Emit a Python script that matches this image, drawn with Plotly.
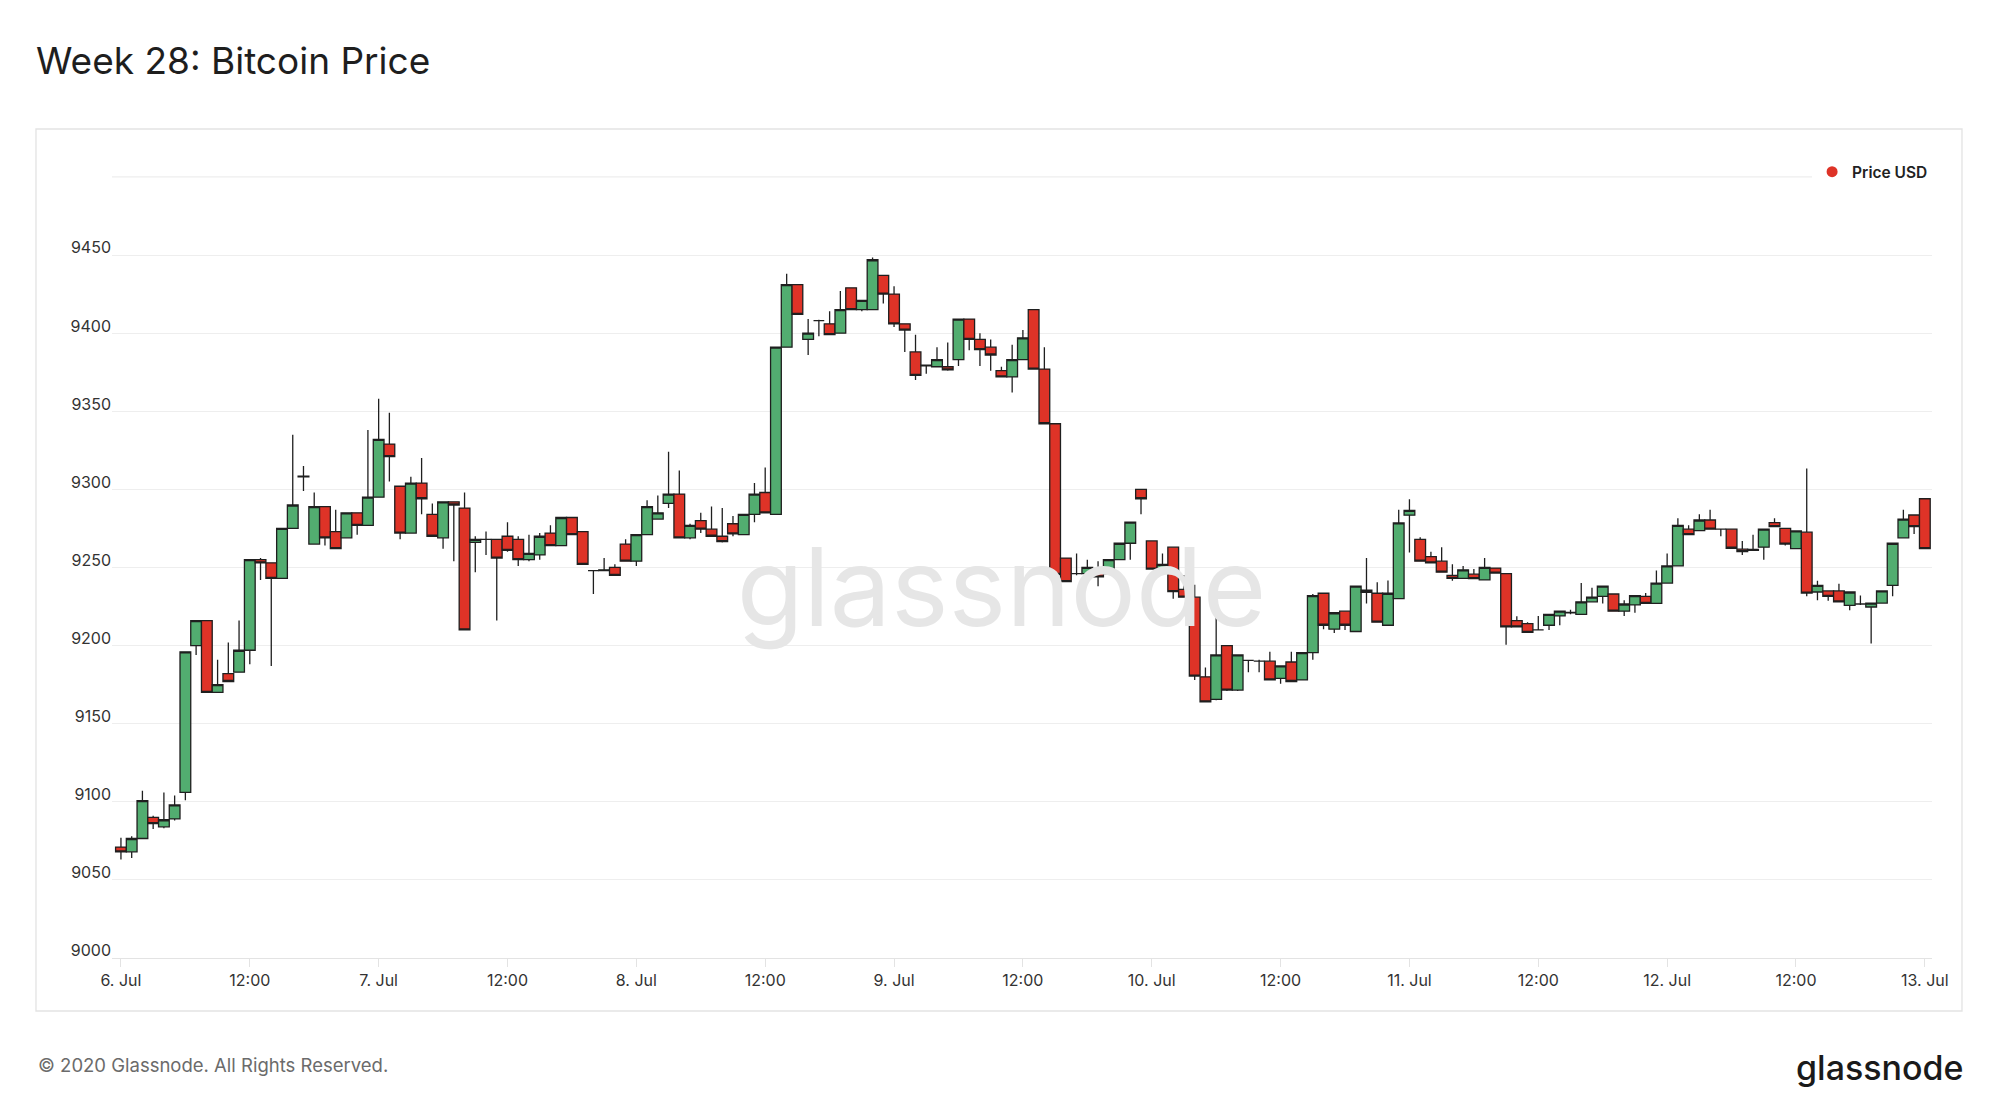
import pandas as pd
import plotly.graph_objects as go

# Hourly candles, 6 Jul 2020 00:00 -> 13 Jul 2020 00:00
times = pd.date_range("2020-07-06 00:00", periods=169, freq="h")

opens = [
    9071, 9068, 9076.5, 9090, 9084, 9089, 9106, 9200, 9216, 9170, 9182, 9183,
    9197, 9255, 9253, 9243, 9275, 9308, 9265, 9289, 9273, 9269, 9285, 9277,
    9295, 9329, 9302, 9272, 9304, 9284, 9269, 9292, 9288, 9266, 9268, 9268,
    9270, 9268, 9255, 9258, 9272, 9264, 9282, 9273, 9248, 9248, 9250, 9265,
    9254, 9271, 9281, 9291, 9297, 9269, 9280, 9274.5, 9270, 9278, 9271, 9284,
    9298, 9284, 9391, 9431, 9396, 9408, 9406, 9400, 9429, 9415, 9415, 9437,
    9425, 9406, 9388, 9379, 9378.5, 9378.5, 9383, 9409, 9396, 9391, 9376, 9372,
    9383, 9415, 9377, 9342, 9256, 9246, 9246, 9249, 9246, 9255, 9265.5, 9300,
    9267, 9249, 9263, 9236, 9231, 9180, 9165.5, 9200, 9171.5, 9190.5, 9190, 9190,
    9179, 9189.5, 9178, 9195.5, 9233.5, 9210.5, 9222, 9209, 9234, 9233.5, 9213, 9230,
    9283.5, 9268, 9257, 9254, 9245, 9243, 9245.7, 9242, 9249.6, 9246, 9216, 9214,
    9210, 9213, 9219, 9221, 9220, 9228, 9231.5, 9233, 9222, 9226, 9231.5, 9227,
    9240, 9251, 9274.5, 9273.6, 9280.4, 9274.5, 9274.5, 9261.7, 9261, 9263, 9278.7, 9275,
    9262, 9272.6, 9234.3, 9235, 9235, 9225.7, 9226.6, 9224.7, 9227.2, 9238.5, 9269, 9283.6,
    9294,
]
highs = [
    9077, 9078, 9107, 9091, 9106, 9104, 9196, 9216, 9216, 9191, 9202, 9216,
    9255, 9256, 9253, 9275, 9335, 9315, 9298, 9289, 9287, 9285, 9285, 9338,
    9358, 9349, 9302, 9308, 9320, 9291, 9292, 9292, 9298, 9270, 9273, 9268,
    9279, 9270, 9271, 9272, 9277, 9282, 9282, 9273, 9248, 9256, 9252, 9268,
    9271, 9293, 9296, 9324, 9312, 9278, 9285, 9289, 9288, 9283, 9284, 9304,
    9314, 9391, 9438, 9431, 9409, 9408.5, 9414, 9427, 9429, 9421, 9448.5, 9437,
    9430, 9406, 9399, 9380, 9391, 9394, 9409, 9409, 9400, 9396, 9378.5, 9392.5,
    9402, 9415, 9391, 9342, 9256, 9259, 9255, 9254, 9255, 9266, 9279, 9300,
    9267, 9259, 9263, 9245, 9239, 9186, 9225.5, 9200, 9194, 9191, 9191, 9196,
    9187, 9196, 9195.5, 9233, 9233.5, 9221, 9222, 9238, 9256, 9240.6, 9241.6, 9287,
    9293.6, 9269.4, 9260, 9263, 9252, 9251, 9249, 9256, 9249.6, 9246, 9218.7, 9215,
    9219, 9220, 9222, 9223, 9240, 9237, 9238, 9233, 9229, 9232, 9233.6, 9248,
    9259, 9281.5, 9277, 9284, 9287, 9275, 9274.5, 9267, 9271, 9274.5, 9281.5, 9275,
    9273.4, 9313.4, 9241.5, 9235, 9239.6, 9234.3, 9232, 9227.2, 9235, 9265.5, 9287, 9283.6,
    9294,
]
lows = [
    9063, 9064, 9076, 9082.5, 9083, 9088, 9101, 9194, 9170, 9170, 9177, 9183,
    9188, 9242, 9187, 9243, 9275, 9299, 9265, 9264, 9262, 9269, 9271, 9277,
    9295, 9305, 9268, 9272, 9284, 9270, 9262, 9254, 9210, 9247, 9258, 9216,
    9260, 9251, 9254, 9255, 9264, 9264, 9271, 9252, 9233, 9248, 9245, 9254,
    9251, 9271, 9281, 9288, 9269, 9268, 9272, 9270, 9266, 9270, 9271, 9279,
    9285, 9284, 9391, 9412, 9386, 9398, 9399, 9400, 9415, 9414, 9415, 9419,
    9404, 9388, 9370, 9374, 9378, 9376, 9379, 9389, 9379, 9376, 9372, 9362,
    9383, 9377, 9342, 9239, 9241, 9245, 9241, 9238, 9246, 9255, 9255, 9284,
    9249, 9245.5, 9230, 9231, 9178, 9164, 9165, 9171, 9171, 9183, 9183, 9178,
    9175.5, 9177, 9178, 9191, 9210.5, 9208, 9210, 9209, 9227, 9215, 9213, 9230,
    9259.6, 9254, 9252.8, 9247, 9241.5, 9243, 9242.8, 9242, 9246, 9200.6, 9212, 9208.5,
    9210, 9210, 9213, 9220, 9220, 9228, 9227, 9222, 9219, 9221, 9227, 9227,
    9240, 9251, 9271, 9273.6, 9274.5, 9270, 9262.3, 9258, 9261, 9255, 9276, 9264,
    9262, 9231.5, 9229, 9228.7, 9228, 9222.6, 9226, 9201.3, 9227, 9231.5, 9269, 9271.5,
    9262,
]
closes = [
    9068, 9076.5, 9100.7, 9086, 9088.5, 9098, 9196, 9216, 9170, 9175, 9177, 9197,
    9255, 9253, 9243, 9275, 9290, 9308.5, 9289, 9269, 9262, 9285, 9277, 9295,
    9332, 9321, 9272, 9304, 9294, 9270, 9292, 9290, 9210, 9268, 9268, 9256,
    9261, 9255, 9259, 9270, 9264, 9282, 9271, 9252, 9248, 9248.5, 9245, 9254,
    9271, 9289, 9285, 9297, 9269, 9277, 9274.5, 9270, 9266.5, 9271.5, 9284, 9297,
    9285, 9391, 9431, 9412, 9400, 9408, 9399, 9415, 9415, 9421, 9447, 9425,
    9406, 9402, 9373, 9379.5, 9383, 9376.5, 9409, 9396, 9389.5, 9386, 9372, 9383,
    9397, 9377, 9342, 9245.5, 9241, 9246, 9250, 9244, 9255, 9265.5, 9279, 9294,
    9249, 9252, 9234.5, 9231, 9180.5, 9164, 9194, 9171.5, 9194, 9190.5, 9190, 9178,
    9187, 9177, 9195.5, 9232, 9213, 9221, 9213, 9238, 9235.5, 9215, 9233.5, 9278.5,
    9286.5, 9254, 9253, 9247, 9243, 9248.5, 9242.8, 9250, 9246.4, 9212, 9212, 9208.5,
    9210, 9220, 9222, 9221.3, 9228, 9231, 9238, 9222, 9226.6, 9232, 9227, 9240,
    9251, 9277, 9271, 9280.4, 9274.5, 9274.5, 9262.3, 9260.2, 9261.5, 9274.5, 9276.2, 9265,
    9273.4, 9233.6, 9238.5, 9231.5, 9228, 9234.3, 9226.6, 9227.2, 9235, 9265.5, 9281, 9276.2,
    9262,
]

tick_vals = pd.date_range("2020-07-06 00:00", "2020-07-13 00:00", freq="12h")
tick_text = ["6. Jul", "12:00", "7. Jul", "12:00", "8. Jul", "12:00", "9. Jul", "12:00",
             "10. Jul", "12:00", "11. Jul", "12:00", "12. Jul", "12:00", "13. Jul"]
y_ticks = [9000, 9050, 9100, 9150, 9200, 9250, 9300, 9350, 9400, 9450, 9500]
y_tick_text = ["9000", "9050", "9100", "9150", "9200", "9250", "9300", "9350", "9400", "9450", ""]
y_range = [9000, 9500.6]

GREEN = "#52ad70"
RED = "#de3327"
OUTLINE = "#1f1f1f"
FONT = "Inter"
GRID = "#eeeeee"

fig = go.Figure()

# watermark (drawn first so candles sit on top of it)
fig.add_trace(go.Scatter(
    x=[times[82]], y=[y_range[0] + 0.46 * (y_range[1] - y_range[0])],
    mode="text", text=["glassnode"], showlegend=False, hoverinfo="skip",
    textfont=dict(family=FONT, size=109, color="#e6e6e6"),
))

fig.add_trace(go.Candlestick(
    x=times, open=opens, high=highs, low=lows, close=closes,
    name="Price USD", showlegend=False,
    increasing=dict(fillcolor=GREEN, line=dict(color=OUTLINE, width=1.3)),
    decreasing=dict(fillcolor=RED, line=dict(color=OUTLINE, width=1.3)),
    whiskerwidth=0,
))

# legend entry shown as a red dot
fig.add_trace(go.Scatter(
    x=[None], y=[None], mode="markers", name="Price USD",
    marker=dict(color=RED, size=11, symbol="circle"), showlegend=True,
))

fig.update_layout(
    width=2000, height=1118,
    margin=dict(l=112, r=68, t=176, b=160),
    paper_bgcolor="white", plot_bgcolor="white",
    boxgap=0, boxgroupgap=0,
    font=dict(family=FONT, color="#333333"),
    title=dict(text="Week 28: Bitcoin Price", x=0.018, xanchor="left", xref="container",
               y=1 - 61 / 1118, yanchor="middle", yref="container",
               font=dict(family=FONT, size=37, color="#1e1e1e")),
    showlegend=True,
    legend=dict(x=1.0006, xanchor="right", y=1.005, yanchor="middle",
                bgcolor="white", font=dict(family=FONT, size=15.5, color="#222222", weight=600),
                itemwidth=30),
    xaxis=dict(
        type="date", range=["2020-07-05 23:10", "2020-07-13 00:40"],
        rangeslider=dict(visible=False),
        tickmode="array", tickvals=tick_vals, ticktext=tick_text,
        showgrid=False, showline=True, linecolor="#e3e3e3", linewidth=1.3,
        ticks="outside", ticklen=8, tickcolor="#e3e3e3", tickwidth=1.3,
        tickfont=dict(family=FONT, size=16, color="#333333"),
        zeroline=False, fixedrange=True,
    ),
    yaxis=dict(
        range=y_range, tickmode="array", tickvals=y_ticks, ticktext=y_tick_text,
        showgrid=True, gridcolor=GRID, gridwidth=1.2,
        ticklabelposition="outside top", ticklabelshift=4,
        tickfont=dict(family=FONT, size=16, color="#333333"),
        zeroline=False, showline=False, fixedrange=True,
    ),
    shapes=[
        dict(type="rect", xref="paper", yref="paper",
             x0=-0.04176, x1=1.01648, y0=-0.0678, y1=1.0601,
             line=dict(color="#e3e3e3", width=1.3), fillcolor="rgba(0,0,0,0)", layer="below"),
        dict(type="line", xref="paper", yref="y", x0=0, x1=1, y0=y_ticks[-1], y1=y_ticks[-1],
             line=dict(color=GRID, width=1.2), layer="below"),
    ],
    annotations=[
        dict(text="© 2020 Glassnode. All Rights Reserved.", xref="paper", yref="paper",
             x=-0.04176, y=-0.1368, xanchor="left", yanchor="middle", showarrow=False,
             font=dict(family=FONT, size=18.5, color="#6b6b6b")),
        dict(text="glassnode", xref="paper", yref="paper",
             x=1.0187, y=-0.1394, xanchor="right", yanchor="middle", showarrow=False,
             font=dict(family=FONT, size=34, color="#1a1a1a", weight=500)),
    ],
)

fig.write_html("out.html", config={"displayModeBar": False},
               post_script="document.body.style.margin='0';")
